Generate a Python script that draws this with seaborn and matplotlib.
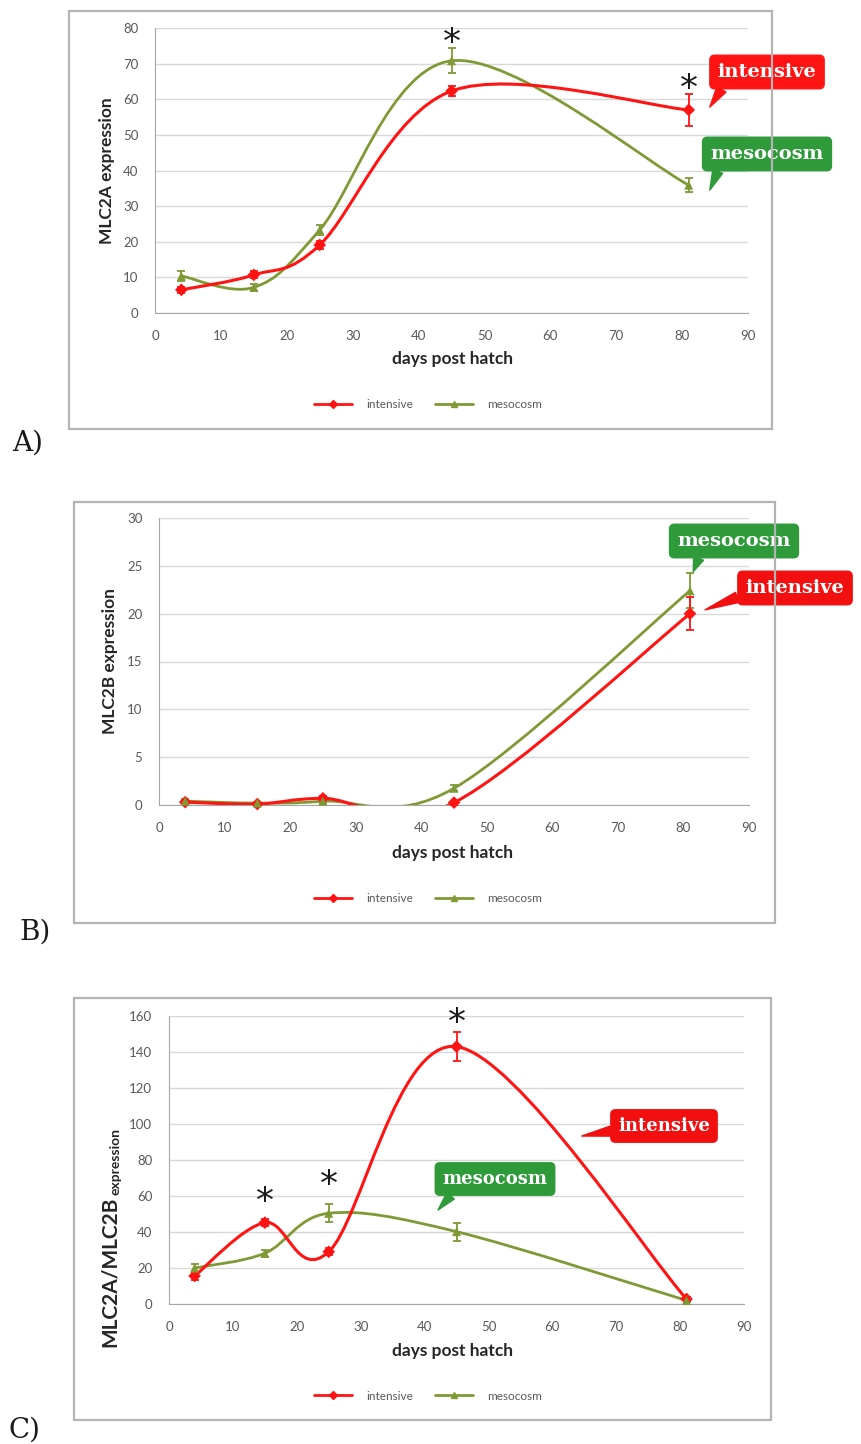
import numpy as np
import pandas as pd
import matplotlib
matplotlib.use("Agg")
import matplotlib.pyplot as plt
import seaborn as sns
from matplotlib.path import Path
from matplotlib.patches import PathPatch, Rectangle
from matplotlib.lines import Line2D
from matplotlib import transforms

# ---- data ----
days = [4, 15, 25, 45, 81]

a_intensive = [6.5, 10.7, 19.1, 62.3, 57.0]
a_intensive_err = [0.8, 1.0, 1.0, 1.5, 4.5]
a_mesocosm = [10.4, 7.2, 23.3, 70.8, 35.9]
a_mesocosm_err = [1.5, 1.0, 1.5, 3.5, 2.0]

b_intensive = [0.3, 0.1, 0.7, 0.25, 20.0]
b_intensive_err = [0.1, 0.1, 0.2, 0.2, 1.7]
b_mesocosm = [0.4, 0.2, 0.4, 1.75, 22.4]
b_mesocosm_err = [0.2, 0.1, 0.2, 0.3, 1.8]

c_intensive = [15.6, 45.2, 29.0, 143.0, 2.8]
c_intensive_err = [2.0, 2.0, 2.0, 8.0, 1.0]
c_mesocosm = [20.0, 28.2, 50.4, 40.2, 2.0]
c_mesocosm_err = [2.0, 2.0, 5.0, 5.0, 1.0]

x_ticks = list(range(0, 91, 10))

RED = "#ff1414"
OLIVE = "#7f9a35"
BOX_RED = "#f20f0f"
BOX_GREEN = "#2f9a3a"
LABEL = "#262626"

sns.set_style("white")
plt.rcParams["font.family"] = ["Lato", "DejaVu Sans"]

W, H = 861, 1444
fig = plt.figure(figsize=(W / 100, H / 100), dpi=100)


def fpos(x, y):
    return x / W, 1 - y / H


def add_axes(left, top, right, bottom):
    return fig.add_axes([left / W, 1 - bottom / H, (right - left) / W, (bottom - top) / H])


def smooth_path(xs, ys):
    # excel-like smoothed line: cubic bezier through the points
    pts = np.column_stack([xs, ys]).astype(float)
    n = len(pts)
    verts = [pts[0]]
    codes = [Path.MOVETO]
    for i in range(n - 1):
        p0 = pts[max(i - 1, 0)]
        p1 = pts[i]
        p2 = pts[i + 1]
        p3 = pts[min(i + 2, n - 1)]
        verts += [p1 + (p2 - p0) / 6, p2 - (p3 - p1) / 6, p2]
        codes += [Path.CURVE4] * 3
    return Path(verts, codes)


def callout(ax, text, tip, center, color, size, relpos):
    ax.annotate(text, xy=tip, xycoords="data", xytext=fpos(*center),
                textcoords="figure fraction", ha="center", va="center",
                fontsize=size, color="white", fontweight="bold", family="DejaVu Serif",
                bbox=dict(boxstyle="round,pad=0.4,rounding_size=0.25", fc=color, ec=color),
                arrowprops=dict(arrowstyle="wedge,tail_width=0.55,shrink_factor=0.5",
                                fc=color, ec=color, relpos=relpos, shrinkA=0, shrinkB=0),
                annotation_clip=False, zorder=10)


panels = [
    dict(ax=(155, 28, 748, 313), box=(69, 11, 772, 429), ymax=80, ystep=10,
         ints=a_intensive, ints_err=a_intensive_err, meso=a_mesocosm, meso_err=a_mesocosm_err,
         stars=[(45, 78.5), (81, 65.5)],
         calls=[("intensive", (84.2, 57.8), (767, 72), RED, 14, (0.1, 0.05)),
                ("mesocosm", (84.2, 34.5), (767, 154), BOX_GREEN, 14, (0.1, 0.05))],
         xlabel_y=359, legend_y=405, tag="A)", tag_xy=(12, 443)),
    dict(ax=(159, 518, 749, 805), box=(74, 502, 775, 923), ymax=30, ystep=5,
         ints=b_intensive, ints_err=b_intensive_err, meso=b_mesocosm, meso_err=b_mesocosm_err,
         stars=[],
         calls=[("mesocosm", (81.5, 24.4), (734, 541), BOX_GREEN, 14, (0.22, 0.05)),
                ("intensive", (83.3, 20.4), (795, 588), BOX_RED, 14, (0.02, 0.2))],
         xlabel_y=853, legend_y=899, tag="B)", tag_xy=(19, 932)),
    dict(ax=(169, 1016, 744, 1304), box=(74, 998, 771, 1420), ymax=160, ystep=20,
         ints=c_intensive, ints_err=c_intensive_err, meso=c_mesocosm, meso_err=c_mesocosm_err,
         stars=[(15, 62), (25, 71.5), (45, 161.5)],
         calls=[("intensive", (64.6, 93.3), (664, 1126), BOX_RED, 13, (0.02, 0.3)),
                ("mesocosm", (42.1, 52.2), (495, 1179), BOX_GREEN, 13, (0.15, 0.05))],
         xlabel_y=1351, legend_y=1396, tag="C)", tag_xy=(9, 1430)),
]

for p in panels:
    bx0, by0, bx1, by1 = p["box"]
    fig.add_artist(Rectangle(fpos(bx0, by1), (bx1 - bx0) / W, (by1 - by0) / H,
                             transform=fig.transFigure, fill=False, ec="#b3b3b3", lw=1.6))

    ax = add_axes(*p["ax"])
    ax.set_facecolor("none")
    ax.set_xlim(0, 90)
    ax.set_ylim(0, p["ymax"])
    ax.set_xticks(x_ticks)
    ax.set_yticks(np.arange(0, p["ymax"] + 0.01, p["ystep"]))
    ax.grid(axis="y", color="#d9d9d9", lw=1)
    ax.set_axisbelow(True)
    for s in ["top", "right"]:
        ax.spines[s].set_visible(False)
    for s in ["left", "bottom"]:
        ax.spines[s].set_color("#a6a6a6")
    ax.tick_params(axis="both", direction="out", length=4, width=1, color="#a6a6a6",
                   labelsize=9.5, labelcolor="#595959", pad=8)

    for vals, err, color, lw in [(p["meso"], p["meso_err"], OLIVE, 2.0),
                                 (p["ints"], p["ints_err"], RED, 2.2)]:
        ax.add_patch(PathPatch(smooth_path(days, vals), fc="none", ec=color, lw=lw, zorder=3))
        ax.errorbar(days, vals, yerr=err, fmt="none", ecolor=color, elinewidth=1.3,
                    capsize=3, capthick=1.3, zorder=4, clip_on=False)

    df = pd.DataFrame({
        "day": days * 2,
        "value": list(p["ints"]) + list(p["meso"]),
        "group": ["intensive"] * len(days) + ["mesocosm"] * len(days),
    })
    sns.scatterplot(data=df, x="day", y="value", hue="group", style="group",
                    palette={"intensive": RED, "mesocosm": OLIVE},
                    markers={"intensive": "D", "mesocosm": "^"}, s=42, edgecolor="none",
                    legend=False, ax=ax, zorder=5, clip_on=False)
    ax.set_xlabel("")
    ax.set_ylabel("")

    star_tr = transforms.offset_copy(ax.transData, fig=fig, y=-14, units="points")
    for sx, sy in p["stars"]:
        ax.text(sx, sy, "*", fontsize=26, ha="center", va="baseline", color="#1a1a1a",
                family="DejaVu Sans", transform=star_tr, clip_on=False)

    for label, tip, center, color, size, relpos in p["calls"]:
        callout(ax, label, tip, center, color, size, relpos)

    fig.text(*fpos(452, p["xlabel_y"]), "days post hatch", ha="center", va="center",
             fontsize=12.5, fontweight="bold", color=LABEL)

    handles = [Line2D([], [], color=RED, lw=2, marker="D", ms=4.5),
               Line2D([], [], color=OLIVE, lw=2, marker="^", ms=5)]
    fig.legend(handles, ["intensive", "mesocosm"], loc="center",
               bbox_to_anchor=fpos(428, p["legend_y"]), ncol=2, frameon=False,
               fontsize=8.5, handlelength=3.2, handletextpad=1.2, columnspacing=1.9,
               labelcolor="#595959")

    fig.text(*fpos(*p["tag_xy"]), p["tag"], ha="left", va="center", fontsize=20,
             family="DejaVu Serif", color="#1a1a1a")

# y labels
fig.text(*fpos(107, 171), "MLC2A expression", rotation=90, ha="center", va="center",
         fontsize=12.5, fontweight="bold", color=LABEL)
fig.text(*fpos(110, 661), "MLC2B expression", rotation=90, ha="center", va="center",
         fontsize=12.5, fontweight="bold", color=LABEL)
big = fig.text(*fpos(110, 1347), "MLC2A/MLC2B", rotation=90, ha="center", va="bottom",
               fontsize=15, fontweight="bold", color=LABEL)
renderer = fig.canvas.get_renderer()
top_px = H - big.get_window_extent(renderer).y1
fig.text(*fpos(115, top_px - 2), "expression", rotation=90, ha="center", va="bottom",
         fontsize=10, fontweight="bold", color=LABEL)

fig.savefig("out.png", dpi=100)
